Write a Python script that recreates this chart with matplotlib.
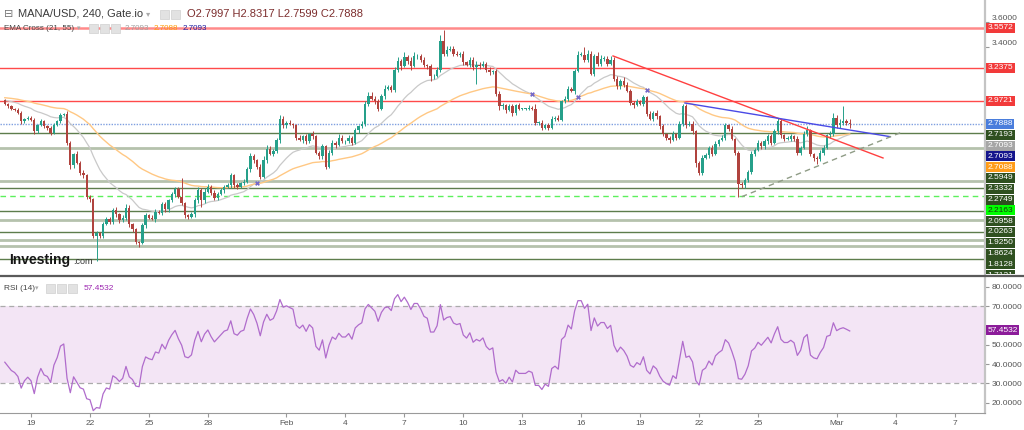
import numpy as np
import matplotlib
matplotlib.use("Agg")
import matplotlib.pyplot as plt
import matplotlib.transforms as mtransforms
from matplotlib.lines import Line2D
from matplotlib.patches import Rectangle

plt.rcParams['font.family'] = ['Liberation Sans', 'DejaVu Sans']

# MANA/USD 4h candles, Jan 17 16:00 -> Mar 1 16:00 (2022), one row per day
first_open = 2.98
closes = [
    2.95, 2.93,
    2.91, 2.90, 2.88, 2.81, 2.83, 2.84,
    2.82, 2.73, 2.78, 2.81, 2.77, 2.76,
    2.72, 2.78, 2.81, 2.86, 2.87, 2.64,
    2.46, 2.55, 2.48, 2.40, 2.38, 2.21,
    2.19, 1.90, 1.92, 1.90, 1.99, 2.03,
    2.01, 2.10, 2.07, 2.02, 2.04, 2.12,
    1.99, 1.95, 1.85, 1.84, 1.98, 2.06,
    2.04, 2.03, 2.09, 2.08, 2.15, 2.11,
    2.18, 2.23, 2.27, 2.21, 2.16, 2.06,
    2.05, 2.07, 2.18, 2.26, 2.18, 2.25,
    2.29, 2.24, 2.20, 2.23, 2.26, 2.29,
    2.30, 2.38, 2.30, 2.29, 2.32, 2.33,
    2.43, 2.53, 2.50, 2.45, 2.37, 2.50,
    2.59, 2.55, 2.57, 2.66, 2.83, 2.78,
    2.80, 2.79, 2.78, 2.68, 2.66, 2.69,
    2.65, 2.71, 2.69, 2.56, 2.53, 2.61,
    2.45, 2.56, 2.64, 2.62, 2.68, 2.65,
    2.65, 2.68, 2.64, 2.74, 2.77, 2.79,
    2.95, 3.01, 2.99, 2.97, 2.91, 3.01,
    3.07, 3.08, 3.06, 3.22, 3.29, 3.25,
    3.32, 3.29, 3.25, 3.33, 3.33, 3.30,
    3.26, 3.25, 3.17, 3.17, 3.22, 3.45,
    3.35, 3.38, 3.39, 3.35, 3.34, 3.35,
    3.28, 3.26, 3.30, 3.24, 3.26, 3.25,
    3.27, 3.22, 3.20, 3.21, 3.03, 2.93,
    2.94, 2.90, 2.93, 2.88, 2.94, 2.91,
    2.91, 2.91, 2.92, 2.91, 2.80, 2.80,
    2.76, 2.78, 2.76, 2.83, 2.84, 2.82,
    2.97, 2.99, 3.07, 3.05, 3.21, 3.34,
    3.34, 3.30, 3.35, 3.19, 3.33, 3.27,
    3.31, 3.31, 3.27, 3.30, 3.15, 3.09,
    3.13, 3.10, 3.05, 2.96, 2.94, 2.97,
    2.95, 3.00, 2.87, 2.83, 2.88, 2.85,
    2.77, 2.71, 2.68, 2.66, 2.71, 2.68,
    2.79, 2.93, 2.78, 2.79, 2.73, 2.48,
    2.40, 2.52, 2.54, 2.60, 2.55, 2.63,
    2.66, 2.68, 2.78, 2.75, 2.67, 2.56,
    2.31, 2.30, 2.34, 2.41, 2.55, 2.58,
    2.64, 2.61, 2.65, 2.69, 2.64, 2.73,
    2.81, 2.70, 2.67, 2.67, 2.69, 2.67,
    2.56, 2.60, 2.71, 2.74, 2.55, 2.52,
    2.51, 2.56, 2.60, 2.70, 2.71, 2.84,
    2.78, 2.80, 2.81, 2.7997, 2.7888,
]
# wick lengths above / below the body, in cents
wick_up = [
    1, 1,
    1, 1, 2, 1, 1, 1,
    1, 2, 1, 2, 1, 1,
    1, 2, 1, 2, 1, 2,
    1, 1, 2, 1, 2, 1,
    1, 1, 2, 1, 2, 2,
    2, 2, 3, 1, 2, 3,
    2, 1, 1, 1, 2, 2,
    1, 2, 2, 1, 2, 2,
    1, 2, 2, 2, 15, 1,
    1, 2, 2, 3, 2, 3,
    2, 1, 2, 2, 2, 1,
    2, 2, 1, 2, 1, 2,
    2, 3, 2, 1, 2, 3,
    3, 2, 2, 2, 3, 2,
    1, 2, 1, 1, 2, 1,
    2, 1, 2, 1, 1, 2,
    1, 2, 2, 1, 3, 2,
    1, 2, 1, 2, 1, 2,
    2, 3, 3, 2, 2, 2,
    3, 2, 2, 2, 3, 2,
    4, 2, 3, 3, 2, 2,
    2, 1, 2, 2, 2, 5,
    9, 3, 2, 2, 2, 1,
    2, 1, 2, 2, 3, 2,
    2, 1, 2, 1, 2, 2,
    2, 1, 2, 2, 1, 2,
    1, 1, 2, 1, 4, 1,
    2, 1, 2, 2, 1, 2,
    1, 2, 2, 1, 2, 3,
    2, 6, 3, 2, 2, 3,
    3, 2, 2, 3, 2, 2,
    2, 3, 2, 2, 1, 2,
    1, 2, 1, 2, 1, 2,
    1, 2, 1, 1, 2, 1,
    2, 2, 2, 2, 2, 1,
    1, 2, 2, 1, 2, 2,
    1, 2, 2, 1, 2, 1,
    1, 2, 2, 1, 2, 2,
    2, 1, 2, 2, 2, 2,
    3, 2, 1, 2, 2, 1,
    2, 1, 2, 3, 1, 1,
    1, 2, 2, 1, 2, 4,
    2, 3, 12, 2, 3.2,
]
wick_dn = [
    1, 1,
    1, 1, 1, 2, 1, 1,
    1, 2, 1, 1, 1, 2,
    2, 1, 1, 1, 1, 2,
    3, 2, 1, 2, 2, 2,
    2, 2, 20, 2, 2, 1,
    2, 2, 2, 2, 1, 2,
    2, 2, 2, 3, 1, 2,
    1, 1, 2, 1, 2, 2,
    2, 1, 2, 1, 2, 2,
    2, 1, 2, 2, 5, 2,
    1, 2, 2, 2, 1, 2,
    1, 2, 2, 2, 1, 2,
    1, 2, 2, 2, 2, 1,
    2, 1, 2, 1, 2, 2,
    2, 1, 2, 2, 1, 2,
    2, 1, 2, 1, 2, 2,
    2, 1, 2, 2, 1, 1,
    2, 1, 2, 1, 2, 1,
    2, 2, 1, 2, 2, 1,
    2, 1, 2, 2, 2, 3,
    1, 2, 3, 1, 2, 2,
    2, 2, 4, 2, 1, 2,
    2, 2, 1, 2, 1, 2,
    2, 1, 2, 2, 13, 2,
    1, 2, 2, 1, 2, 3,
    2, 2, 1, 3, 2, 1,
    1, 1, 1, 1, 2, 2,
    2, 1, 2, 1, 2, 1,
    1, 1, 2, 1, 2, 1,
    1, 2, 2, 1, 2, 2,
    2, 2, 2, 1, 2, 2,
    2, 2, 1, 2, 2, 1,
    1, 2, 2, 1, 2, 2,
    2, 2, 2, 2, 1, 2,
    1, 2, 2, 1, 2, 3,
    2, 2, 1, 2, 2, 1,
    2, 1, 2, 2, 1, 2,
    10, 2, 2, 1, 2, 2,
    1, 2, 2, 2, 2, 1,
    2, 2, 2, 1, 2, 2,
    2, 2, 1, 2, 2, 3,
    4, 2, 2, 1, 2, 2,
    2, 2, 2, 2, 2.89,
]

# header values
ohlc_text = "O2.7997 H2.8317 L2.7599 C2.7888"
ema_fast_val, ema_slow_val, ema_cross_val = 2.7093, 2.7088, 2.7093
rsi_val = 57.4532
last_price = 2.7888

# horizontal levels: (price, kind)
red_levels = [3.5572, 3.2375, 2.9721]
support_levels = [(2.7193, "thin"), (2.5949, "thick"), (2.3332, "thick"),
                  (2.2749, "thin"), (2.2163, "dash"), (2.0958, "thin"),
                  (2.0263, "thick"), (1.9250, "thin"), (1.8624, "thick"),
                  (1.8128, "thick"), (1.7121, "thin")]

# trendlines, (day from Jan 19, price)
red_trend = [(29.62, 3.331), (43.36, 2.518)]
blue_trend = [(33.28, 2.956), (43.72, 2.688)]
gray_trend = [(36.17, 2.2095), (44.37, 2.727)]

tick_days = [0, 3, 6, 9, 13, 16, 19, 22, 25, 28, 31, 34, 37, 41, 44, 47]
tick_labels = ['19', '22', '25', '28', 'Feb', '4', '7', '10', '13', '16',
               '19', '22', '25', 'Mar', '4', '7']
price_ticks = [3.6, 3.4]
rsi_ticks = [80, 70, 50, 40, 30, 20]

# ---------------------------------------------------------------
c = np.array(closes)
n = len(c)
t = -4 / 3 + np.arange(n) / 6
o = np.r_[first_open, c[:-1]]
hi = np.maximum(o, c) + np.array(wick_up) / 100
lo = np.minimum(o, c) - np.array(wick_dn) / 100


def ema(x, period, seed):
    a = 2 / (period + 1)
    v = seed
    out = []
    for val in x:
        v = v + a * (val - v)
        out.append(v)
    return np.array(out)


def rsi(x, period, prev, g0, l0):
    d = np.diff(np.r_[prev, x])
    ag, al = g0, l0
    out = []
    for dd in d:
        ag = (ag * (period - 1) + max(dd, 0)) / period
        al = (al * (period - 1) + max(-dd, 0)) / period
        out.append(100 - 100 / (1 + ag / al))
    return np.array(out)


ema21 = ema(c, 21, 2.98)
ema55 = ema(c, 55, 3.00)
rsi14 = rsi(c, 14, first_open, 0.012, 0.015)

W, H = 1024, 430
PPU = 125.5          # pixels per price unit
TOP = 3.7768         # price at top edge
fig = plt.figure(figsize=(W / 100, H / 100), dpi=100)
ax = fig.add_axes([0, 1 - 274 / H, 985 / W, 274 / H])
ax2 = fig.add_axes([0, 1 - 413 / H, 985 / W, 136 / H])

xlim = (-1.578, 48.55)
for a in (ax, ax2):
    a.set_xlim(*xlim)
    for s in ('top', 'left', 'bottom'):
        a.spines[s].set_visible(False)
    a.spines['right'].set_color('#c4c4c4')
    a.spines['right'].set_linewidth(1.6)
    a.yaxis.tick_right()
    a.tick_params(axis='y', length=3, color='#999999', labelsize=6,
                  labelcolor='#555555', pad=2)
ax.set_ylim(TOP - 274 / PPU, TOP)
ax.set_xticks([])
ax.set_yticks(price_ticks)
ax.set_yticklabels([f"{v:.4f}" for v in price_ticks], va='bottom')

# levels
for i, lv in enumerate(red_levels):
    if i == 0:
        ax.axhline(lv, color='#ff8a8a', lw=1.8, zorder=1)
    else:
        ax.axhline(lv, color='#ff4a4a', lw=1.0, zorder=1)
ax.axhline(last_price, color='#7f9fe0', lw=1.0, ls=(0, (1, 1)), zorder=1)
for lv, kind in support_levels:
    if kind == "thin":
        ax.axhline(lv, color='#5d7d4c', lw=1.0, zorder=1)
    elif kind == "thick":
        ax.axhline(lv, color='#b5c2ad', lw=2.0, zorder=1)
    else:
        ax.axhline(lv, color='#5cf05c', lw=1.0, ls=(0, (4, 3)), zorder=1)

# EMAs
ax.plot(t, ema21, color='#c9c9c9', lw=0.9, zorder=2)
ax.plot(t, ema55, color='#ffc884', lw=1.0, zorder=2)
diff = np.sign(ema21 - ema55)
cross = np.where(diff[1:] != diff[:-1])[0] + 1
ax.plot(t[cross], ema21[cross], 'X', color='#7468c8', ms=3.5, mew=0,
        zorder=4)

# candles
up = c >= o
cols = np.where(up, '#26a08a', '#b0433e')
body = np.maximum(np.abs(c - o), 0.004)
ax.vlines(t, lo, hi, colors=cols, lw=0.7, zorder=3)
ax.bar(t, body, bottom=np.minimum(o, c), width=0.12, color=cols,
       linewidth=0, zorder=3)

# trendlines
for pts, col, ls in [(red_trend, '#ff4040', '-'), (blue_trend, '#4a4ae6', '-'),
                     (gray_trend, '#8f9c86', (0, (4, 3)))]:
    ax.plot([p[0] for p in pts], [p[1] for p in pts], color=col, lw=1.0,
            ls=ls, zorder=4)

# price labels on the right axis, stacked like the platform does
green_dark = '#2f5020'
labels = [(red_levels[0], '#f23a3a', 'white'),
          (red_levels[1], '#f23a3a', 'white'),
          (red_levels[2], '#f23a3a', 'white'),
          (last_price, '#4a7ddc', 'white'),
          (support_levels[0][0], green_dark, 'white'),
          (ema_fast_val, '#a6a6a6', 'white'),
          (ema_cross_val, '#14148c', 'white'),
          (ema_slow_val, '#ff9c1a', 'white')]
for lv, kind in support_levels[1:]:
    if kind == "dash":
        labels.append((lv, '#00ff00', '#1a3a10'))
    else:
        labels.append((lv, green_dark, 'white'))
box_h = 10.8 / PPU
trans = mtransforms.blended_transform_factory(ax.transAxes, ax.transData)
pane_clip = mtransforms.TransformedBbox(
    mtransforms.Bbox([[0, 1 - 274 / H], [1, 1]]), fig.transFigure)
prev = None
for val, fc, tc in labels:
    pos = val if prev is None else min(val, prev - box_h)
    prev = pos
    tx = ax.text(1.0025, pos, f"{val:.4f}", transform=trans, ha='left',
                 va='center', fontsize=6, color=tc, zorder=6,
                 bbox=dict(boxstyle='square,pad=0.18', fc=fc, ec='none'))
    tx.set_clip_box(pane_clip)
    tx.set_clip_on(True)
    tx.get_bbox_patch().set_clip_box(pane_clip)
    tx.get_bbox_patch().set_clip_on(True)

# RSI pane
ax2.set_ylim(14.67, 85.0)
ax2.axhspan(30, 70, color='#f3e5f5', lw=0, zorder=0)
for lv in (30, 70):
    ax2.axhline(lv, color='#ababab', lw=0.9, ls=(0, (4, 3)), zorder=1)
ax2.plot(t, rsi14, color='#b06ccc', lw=0.9, zorder=2)
ax2.set_yticks(rsi_ticks)
ax2.set_yticklabels([f"{v:.4f}" for v in rsi_ticks])
ax2.spines['bottom'].set_visible(True)
ax2.spines['bottom'].set_color('#9a9a9a')
ax2.spines['bottom'].set_linewidth(0.8)
ax2.set_xticks(tick_days)
ax2.set_xticklabels(tick_labels)
ax2.tick_params(axis='x', length=3, color='#999999', labelsize=6,
                labelcolor='#555555', pad=2)
trans2 = mtransforms.blended_transform_factory(ax2.transAxes, ax2.transData)
ax2.text(1.0025, rsi_val, f"{rsi_val:.4f}", transform=trans2, ha='left',
         va='center', fontsize=6, color='white', zorder=6, clip_on=False,
         bbox=dict(boxstyle='square,pad=0.18', fc='#8c1c9a', ec='none'))

# pane separator
fig.add_artist(Line2D([0, 1], [1 - 275.5 / H] * 2, color='#5a5a5a', lw=1.6))


# header texts
def px(x, y):
    return x / W, 1 - y / H


def icon(x, y):
    fig.add_artist(Rectangle(px(x, y + 9), 9 / W, 9 / H, fc='#e2e2e2',
                             ec='#cfcfcf', lw=0.5,
                             transform=fig.transFigure))


fig.text(*px(4, 14), "\u229f", fontsize=8, color='#777777', va='center',
         family=['DejaVu Sans'])
fig.text(*px(18, 14), "MANA/USD, 240, Gate.io", fontsize=8, color='#3a3a3a',
         va='center')
fig.text(*px(146, 14), "\u25be", fontsize=6, color='#aaaaaa', va='center',
         family=['DejaVu Sans'])
icon(160, 10)
icon(171, 10)
fig.text(*px(187, 14), ohlc_text, fontsize=8, color='#7d2e2e', va='center')

fig.text(*px(4, 28), "EMA Cross (21, 55)", fontsize=5.8, color='#444444',
         va='center')
fig.text(*px(77, 28), "\u25be", fontsize=5, color='#aaaaaa', va='center',
         family=['DejaVu Sans'])
icon(89, 24)
icon(100, 24)
icon(111, 24)
fig.text(*px(125, 28), f"{ema_fast_val:.4f}", fontsize=5.8, color='#a0a0a0',
         va='center')
fig.text(*px(154, 28), f"{ema_slow_val:.4f}", fontsize=5.8, color='#ff9800',
         va='center')
fig.text(*px(183, 28), f"{ema_cross_val:.4f}", fontsize=5.8, color='#1a1aa0',
         va='center')

fig.text(*px(4, 288), "RSI (14)", fontsize=6, color='#444444', va='center')
fig.text(*px(35, 288), "\u25be", fontsize=5, color='#aaaaaa', va='center',
         family=['DejaVu Sans'])
icon(46, 284)
icon(57, 284)
icon(68, 284)
fig.text(*px(84, 288), f"{rsi_val:.4f}", fontsize=6, color='#9c27b0',
         va='center')

fig.text(*px(9, 260), "Investing", fontsize=10, fontweight='bold',
         color='#161616', va='center')
fig.text(*px(73, 262), ".com", fontsize=6.5, color='#333333', va='center')

fig.savefig("out.png", dpi=100)
